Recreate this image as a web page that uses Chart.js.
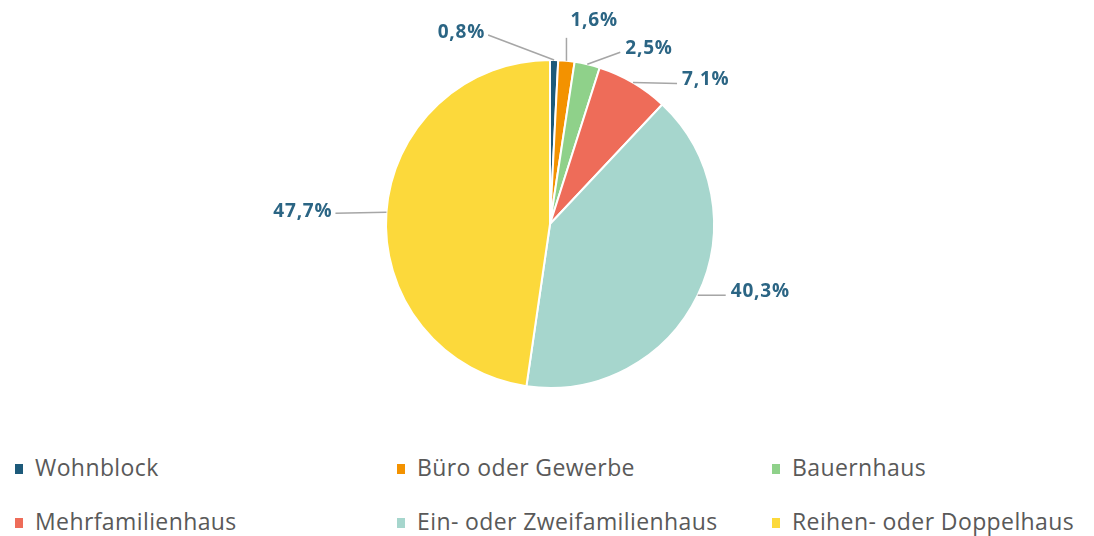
<!DOCTYPE html>
<html>
<head>
<meta charset="utf-8">
<script src="https://cdn.jsdelivr.net/npm/chart.js@4.4.1/dist/chart.umd.min.js"></script>
<style>
  html, body { margin: 0; padding: 0; background: #fff; }
  #wrap { position: relative; width: 1094px; height: 536px; }
  #chart { position: absolute; left: 0; top: 0; }
  #legend { position: absolute; left: 0; top: 448px; width: 1094px; font-family: "Open Sans", sans-serif; font-size: 23px; letter-spacing: 0.4px; color: #595959; }
  .item { position: absolute; white-space: nowrap; line-height: 24px; }
  .box { display: inline-block; width: 8px; height: 10px; margin-right: 12px; vertical-align: 2px; }
</style>
</head>
<body>
<div id="wrap">
  <canvas id="chart" width="1094" height="440"></canvas>
  <div id="legend"></div>
</div>
<script>
// Daten
const categories = ['Wohnblock', 'Büro oder Gewerbe', 'Bauernhaus', 'Mehrfamilienhaus', 'Ein- oder Zweifamilienhaus', 'Reihen- oder Doppelhaus'];
const shares = [0.8, 1.6, 2.5, 7.1, 40.3, 47.7];
const colors = ['#1d5a7a', '#f39200', '#8fd18a', '#ee6c59', '#a6d6cd', '#fcd93b'];

// Label-Versatz vom Rand des Segments (dx, dy) in px
const labelOffsets = [[-69, -27], [4, -40], [38, -16], [49, -3], [33, -4], [-54, -1]];
// Legendenpositionen (Spalte x, Zeile y)
const legendCols = [15, 397, 772];
const legendRows = [7, 61];

const fmt = v => v.toFixed(1).replace('.', ',') + '%';

const leaderLabels = {
  id: 'leaderLabels',
  afterDatasetsDraw(chart) {
    const ctx = chart.ctx;
    const meta = chart.getDatasetMeta(0);
    ctx.save();
    ctx.font = 'bold 19px "Open Sans", sans-serif';
    ctx.letterSpacing = '0.8px';
    ctx.textBaseline = 'middle';
    meta.data.forEach((arc, i) => {
      const mid = (arc.startAngle + arc.endAngle) / 2;
      const ex = arc.x + Math.cos(mid) * arc.outerRadius;
      const ey = arc.y + Math.sin(mid) * arc.outerRadius;
      const lx = ex + labelOffsets[i][0];
      const ly = ey + labelOffsets[i][1];
      const text = fmt(shares[i]);
      const w = ctx.measureText(text).width;
      let tx, sx, sy;
      if (labelOffsets[i][0] < 0) { tx = lx - w; sx = lx + 3; sy = ly + 2; }
      else if (Math.abs(labelOffsets[i][1]) > 30) { tx = lx; sx = ex; sy = ly + 17; }
      else { tx = lx; sx = lx - 5; sy = ly + 4; }
      ctx.strokeStyle = '#a6a6a6';
      ctx.lineWidth = 1.5;
      ctx.beginPath();
      ctx.moveTo(ex, ey);
      ctx.lineTo(sx, sy);
      ctx.stroke();
      ctx.fillStyle = '#2b6584';
      ctx.textAlign = 'left';
      ctx.fillText(text, tx, ly);
    });
    ctx.restore();
  }
};

new Chart(document.getElementById('chart'), {
  type: 'pie',
  data: {
    labels: categories,
    datasets: [{
      data: shares,
      backgroundColor: colors,
      borderColor: '#ffffff',
      borderWidth: 2
    }]
  },
  options: {
    responsive: false,
    animation: false,
    layout: { padding: { top: 59, bottom: 51, left: 6, right: 0 } },
    plugins: {
      legend: { display: false },
      tooltip: { enabled: false }
    }
  },
  plugins: [leaderLabels]
});

// Legende
const legend = document.getElementById('legend');
categories.forEach((name, i) => {
  const el = document.createElement('div');
  el.className = 'item';
  el.style.left = legendCols[i % 3] + 'px';
  el.style.top = legendRows[Math.floor(i / 3)] + 'px';
  el.innerHTML = '<span class="box" style="background:' + colors[i] + '"></span>' + name;
  legend.appendChild(el);
});
</script>
</body>
</html>
